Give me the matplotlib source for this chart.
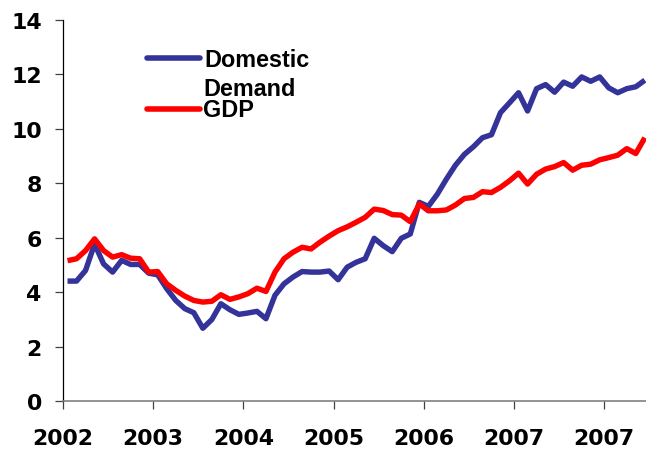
import matplotlib
matplotlib.use("Agg")
import matplotlib.pyplot as plt
from matplotlib.lines import Line2D

# values, one point per period
domestic_demand = [
    4.41, 4.41, 4.80, 5.77, 5.04, 4.74, 5.17, 5.02, 5.02, 4.70,
    4.64, 4.13, 3.70, 3.40, 3.25, 2.68, 3.00, 3.58, 3.36, 3.19,
    3.24, 3.30, 3.03, 3.89, 4.31, 4.56, 4.76, 4.74, 4.74, 4.78,
    4.46, 4.92, 5.10, 5.23, 5.98, 5.71, 5.49, 5.98, 6.14, 7.30,
    7.15, 7.60, 8.15, 8.66, 9.06, 9.34, 9.67, 9.78, 10.59, 10.95,
    11.32, 10.65, 11.47, 11.62, 11.34, 11.71, 11.56, 11.90, 11.74, 11.90,
    11.50, 11.32, 11.47, 11.54, 11.78,
]
gdp = [
    5.16, 5.23, 5.53, 5.96, 5.53, 5.29, 5.38, 5.25, 5.23, 4.74,
    4.76, 4.31, 4.07, 3.86, 3.70, 3.64, 3.67, 3.91, 3.74, 3.83,
    3.95, 4.15, 4.03, 4.74, 5.23, 5.47, 5.65, 5.59, 5.84, 6.06,
    6.26, 6.40, 6.57, 6.75, 7.05, 7.00, 6.85, 6.83, 6.59, 7.24,
    6.99, 6.99, 7.02, 7.20, 7.44, 7.48, 7.69, 7.66, 7.85, 8.09,
    8.37, 7.97, 8.33, 8.52, 8.61, 8.76, 8.48, 8.66, 8.70, 8.86,
    8.94, 9.03, 9.27, 9.09, 9.67,
]
year_labels = ["2002", "2003", "2004", "2005", "2006", "2007", "2007"]
y_ticks = [0, 2, 4, 6, 8, 10, 12, 14]

BLUE = "#333399"
RED = "#ff0000"
TICK_FONT = {"family": "DejaVu Sans", "weight": "bold", "size": 15.8}
LEG_FONT = {"family": "Liberation Sans", "weight": "bold", "size": 16.8}

fig = plt.figure(figsize=(6.46, 4.52), dpi=100)
ax = fig.add_axes([63 / 646, (452 - 402.3) / 452, (646 - 63) / 646, (402.3 - 20.7) / 452])

x = list(range(len(domestic_demand)))
ax.plot(x, domestic_demand, color=BLUE, lw=3.9, solid_capstyle="butt")
ax.plot(x, gdp, color=RED, lw=3.9, solid_capstyle="butt")

ax.set_xlim(-0.5, 64.13)
ax.set_ylim(0, 14)
ax.set_xticks([-0.5 + 10 * k for k in range(len(year_labels))])
ax.set_xticklabels(year_labels, fontdict=TICK_FONT)
ax.set_yticks(y_ticks)
ax.set_yticklabels([str(v) for v in y_ticks], fontdict=TICK_FONT)

for side in ("top", "right"):
    ax.spines[side].set_visible(False)
ax.spines["left"].set_color("black")
ax.spines["left"].set_linewidth(0.9)
ax.spines["bottom"].set_color("#808080")
ax.spines["bottom"].set_linewidth(1.2)
ax.tick_params(axis="y", length=5.8, width=0.9, color="#404040", pad=9.5)
ax.tick_params(axis="x", length=5.8, width=0.9, color="#404040", pad=13.5)

# legend drawn by hand to keep the wrapped label layout
def fy(py):
    return 1 - py / 452

fig.add_artist(Line2D([147 / 646, 200 / 646], [fy(58.8), fy(58.8)], color=BLUE, lw=4.0,
                      solid_capstyle="round", transform=fig.transFigure))
fig.add_artist(Line2D([147 / 646, 200 / 646], [fy(109.7), fy(109.7)], color=RED, lw=4.0,
                      solid_capstyle="round", transform=fig.transFigure))
fig.text(204 / 646, fy(67.3), "Domestic", va="baseline", ha="left", fontdict=LEG_FONT)
fig.text(203 / 646, fy(96), "Demand", va="baseline", ha="left", fontdict=LEG_FONT)
fig.text(203 / 646, fy(117), "GDP", va="baseline", ha="left", fontdict=LEG_FONT)

fig.savefig("out.png", dpi=100)
